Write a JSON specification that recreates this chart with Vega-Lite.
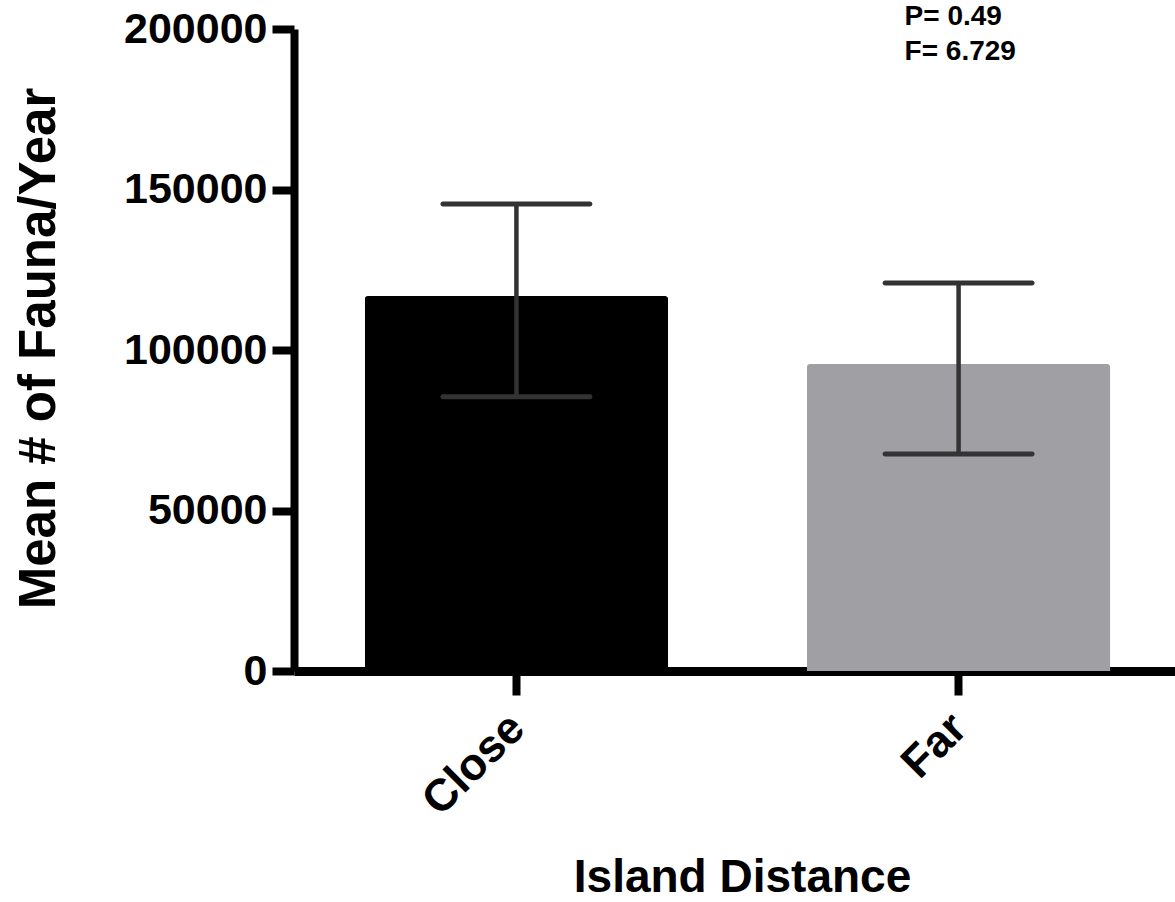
{
  "$schema": "https://vega.github.io/schema/vega-lite/v6.json",
  "width": 881,
  "height": 642,
  "autosize": {"type": "none"},
  "padding": {"left": 294, "top": 29, "right": 0, "bottom": 231},
  "background": "white",
  "config": {"view": {"stroke": null}, "font": "Liberation Sans"},
  "datasets": {
    "bars": [
      {"distance": "Close", "mean": 116800, "lower": 85400, "upper": 145500},
      {"distance": "Far", "mean": 95600, "lower": 67600, "upper": 120900}
    ],
    "notes": [
      {"distance": "Far", "y": 203700, "label": "P= 0.49"},
      {"distance": "Far", "y": 192800, "label": "F= 6.729"}
    ]
  },
  "encoding": {
    "x": {
      "field": "distance",
      "type": "nominal",
      "sort": ["Close", "Far"],
      "scale": {"paddingInner": 0.314, "paddingOuter": 0.16, "range": [0, 887]},
      "axis": {
        "title": "Island Distance",
        "labelAngle": -45,
        "labelFontSize": 45,
        "labelFontWeight": "bold",
        "labelColor": "black",
        "labelPadding": 10,
        "labelOffset": -15,
        "domainColor": "black",
        "domainWidth": 9,
        "tickColor": "black",
        "tickWidth": 8,
        "tickSize": 24,
        "titleFontSize": 46,
        "titleFontWeight": "bold",
        "titleColor": "black",
        "titleX": 448,
        "titleY": 220,
        "titleBaseline": "alphabetic",
        "titleAlign": "center",
        "grid": false
      }
    }
  },
  "layer": [
    {
      "data": {"name": "bars"},
      "mark": {"type": "bar", "cornerRadiusTopLeft": 3, "cornerRadiusTopRight": 3},
      "encoding": {
        "y": {
          "field": "mean",
          "type": "quantitative",
          "scale": {"domain": [0, 200000], "nice": false},
          "axis": {
            "title": "Mean # of Fauna/Year",
            "values": [0, 50000, 100000, 150000, 200000],
            "format": "d",
            "labelFontSize": 43,
            "labelFontWeight": "bold",
            "labelColor": "black",
            "labelPadding": 5,
            "domainColor": "black",
            "domainWidth": 8,
            "tickColor": "black",
            "tickWidth": 8,
            "tickSize": 22,
            "titleFontSize": 51,
            "titleFontWeight": "bold",
            "titleColor": "black",
            "titleAngle": -90,
            "titleX": -240,
            "titleY": 319,
            "titleAlign": "center",
            "titleBaseline": "alphabetic",
            "grid": false
          }
        },
        "color": {
          "field": "distance",
          "type": "nominal",
          "scale": {"domain": ["Close", "Far"], "range": ["#000000", "#A09FA3"]},
          "legend": null
        }
      }
    },
    {
      "data": {"name": "bars"},
      "mark": {"type": "rule", "color": "#333333", "strokeWidth": 4.5},
      "encoding": {
        "y": {"field": "lower", "type": "quantitative"},
        "y2": {"field": "upper"}
      }
    },
    {
      "data": {"name": "bars"},
      "mark": {"type": "tick", "color": "#333333", "size": 152, "thickness": 5, "cornerRadius": 2.5, "opacity": 1},
      "encoding": {
        "y": {"field": "lower", "type": "quantitative"}
      }
    },
    {
      "data": {"name": "bars"},
      "mark": {"type": "tick", "color": "#333333", "size": 152, "thickness": 5, "cornerRadius": 2.5, "opacity": 1},
      "encoding": {
        "y": {"field": "upper", "type": "quantitative"}
      }
    },
    {
      "data": {"name": "notes"},
      "mark": {"type": "text", "align": "left", "baseline": "middle", "dx": -54, "fontSize": 28, "fontWeight": "bold", "color": "black", "clip": false},
      "encoding": {
        "y": {"field": "y", "type": "quantitative"},
        "text": {"field": "label"}
      }
    }
  ]
}
